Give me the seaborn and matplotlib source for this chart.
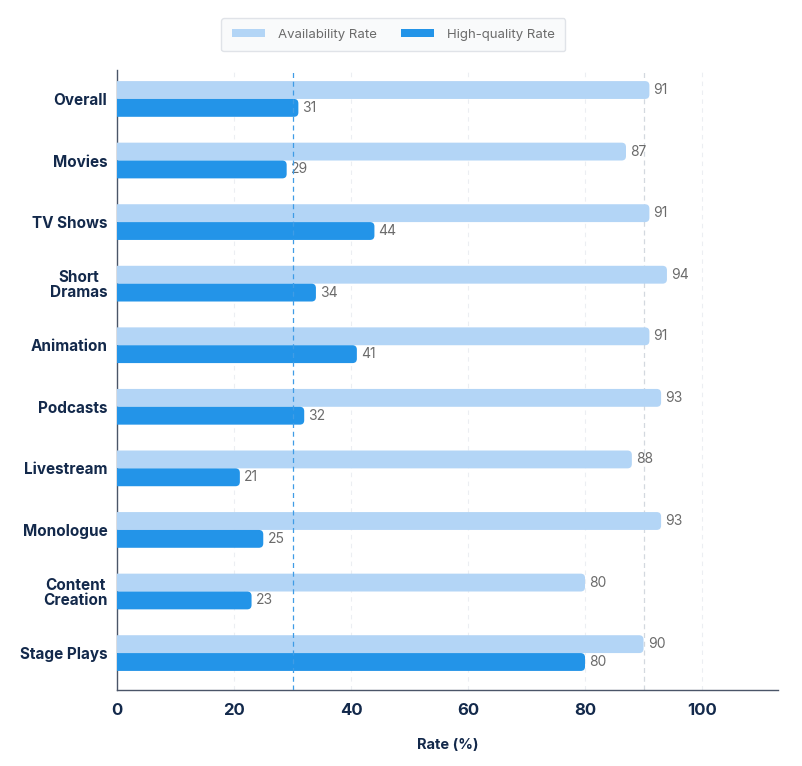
import pandas as pd
import matplotlib.pyplot as plt
import seaborn as sns
from matplotlib.patches import FancyBboxPatch, Patch

categories = ["Overall", "Movies", "TV Shows", "Short\nDramas", "Animation",
              "Podcasts", "Livestream", "Monologue", "Content\nCreation", "Stage Plays"]
availability = [91, 87, 91, 94, 91, 93, 88, 93, 80, 90]
high_quality = [31, 29, 44, 34, 41, 32, 21, 25, 23, 80]
series_names = ["Availability Rate", "High-quality Rate"]

light_blue = "#b3d5f6"
dark_blue = "#2394e8"
navy = "#13294b"

df = pd.DataFrame({
    "Category": categories * 2,
    "Rate": availability + high_quality,
    "Metric": [series_names[0]] * len(categories) + [series_names[1]] * len(categories),
})

sns.set_style("white")
plt.rcParams["font.family"] = ["Inter", "DejaVu Sans"]

fig = plt.figure(figsize=(8.03, 7.66), dpi=100)
ax = fig.add_axes([0.1457, 0.0992, 0.8233, 0.8094])

sns.barplot(data=df, x="Rate", y="Category", hue="Metric", orient="h",
            palette=[light_blue, dark_blue], width=0.58, ax=ax, legend=False,
            saturation=1)

# value labels
for cont in ax.containers:
    ax.bar_label(cont, padding=3, color="#6b6b6b", fontsize=10)

# swap plain rectangles for rounded ones
ax.set_xlim(0, 113)
ax.set_ylim(9.6, -0.47)
mut = (1 / 61.6) / (1 / 5.86)
for cont, col in zip(ax.containers, [light_blue, dark_blue]):
    for r in cont:
        x, y = r.get_x(), r.get_y()
        w, h = r.get_width(), r.get_height()
        r.set_visible(False)
        ax.add_patch(FancyBboxPatch((x - 2, y), w + 2, h,
                                    boxstyle="round,pad=0,rounding_size=0.75",
                                    mutation_aspect=mut, fc=col, ec="none",
                                    zorder=3, clip_on=True))

# grid and reference lines
for gx in [20, 40, 60, 80, 100]:
    ax.axvline(gx, color="#eceef2", lw=0.8, ls=(0, (4, 4)), zorder=0)
ax.axvline(90, color="#d3d8df", lw=0.9, ls=(0, (4, 3)), zorder=1)
ax.axvline(30, color="#3f9ce6", lw=0.9, ls=(0, (4, 3)), zorder=4)

ax.set_xticks([0, 20, 40, 60, 80, 100])
ax.tick_params(axis="x", labelsize=12, colors=navy, length=3, width=1, pad=6)
ax.tick_params(axis="y", labelsize=11, colors=navy, length=3, width=1, pad=4)
for lab in ax.get_xticklabels() + ax.get_yticklabels():
    lab.set_fontweight("bold")
    lab.set_color(navy)
for lab in ax.get_yticklabels():
    lab.set_linespacing(1.0)
    lab.set_multialignment("center")
ax.tick_params(axis="both", color="#4a5568")

ax.set_ylabel("")
ax.set_xlabel("Rate (%)", fontsize=10.5, fontweight="bold", color=navy, labelpad=15)

sns.despine(ax=ax)
for s in ["left", "bottom"]:
    ax.spines[s].set_color("#4a5568")
    ax.spines[s].set_linewidth(1.0)

handles = [Patch(fc=light_blue, ec="none"), Patch(fc=dark_blue, ec="none")]
leg = fig.legend(handles, series_names, loc="upper center", ncol=2,
                 bbox_to_anchor=(0.49, 0.985), frameon=True, fontsize=9.5,
                 handlelength=2.5, handleheight=0.5, columnspacing=1.8,
                 borderpad=0.8, handletextpad=1.0, fancybox=True)
leg.get_frame().set_edgecolor("#d9dde3")
leg.get_frame().set_facecolor("#f8f9fb")
leg.get_frame().set_linewidth(1.0)
for t in leg.get_texts():
    t.set_color("#6b6b6b")

fig.savefig("out.png", dpi=100)
